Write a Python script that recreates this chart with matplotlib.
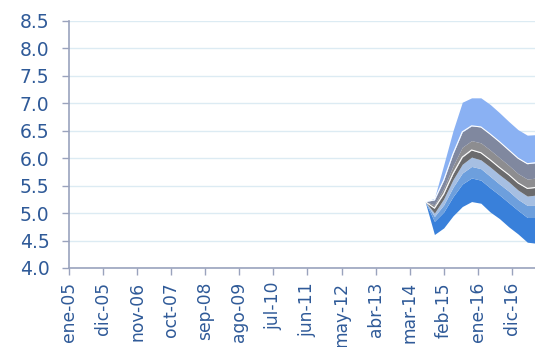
import matplotlib.pyplot as plt

# month names used on the category axis (Spanish)
meses = ['ene', 'feb', 'mar', 'abr', 'may', 'jun', 'jul', 'ago', 'sep', 'oct', 'nov', 'dic']

tick_labels = ['ene-05', 'dic-05', 'nov-06', 'oct-07', 'sep-08', 'ago-09', 'jul-10',
               'jun-11', 'may-12', 'abr-13', 'mar-14', 'feb-15', 'ene-16', 'dic-16']

# fan chart points (quarterly)
fan_dates = ['ago-14', 'nov-14', 'feb-15', 'may-15', 'ago-15', 'nov-15', 'feb-16',
             'may-16', 'ago-16', 'nov-16', 'feb-17', 'may-17', 'ago-17']
top      = [5.21, 5.27, 5.88, 6.50, 7.02, 7.10, 7.10, 6.98, 6.83, 6.67, 6.52, 6.42, 6.43]
upper_2  = [5.21, 5.24, 5.60, 6.08, 6.48, 6.59, 6.57, 6.44, 6.30, 6.15, 6.00, 5.90, 5.92]
upper_1  = [5.21, 5.15, 5.45, 5.86, 6.20, 6.32, 6.28, 6.15, 6.01, 5.87, 5.72, 5.62, 5.64]
central  = [5.21, 5.09, 5.35, 5.72, 6.02, 6.15, 6.10, 5.97, 5.83, 5.70, 5.55, 5.45, 5.47]
lower_1  = [5.21, 5.00, 5.26, 5.61, 5.89, 6.02, 5.97, 5.84, 5.70, 5.57, 5.42, 5.31, 5.33]
lower_2  = [5.21, 4.94, 5.15, 5.47, 5.73, 5.85, 5.81, 5.67, 5.53, 5.40, 5.25, 5.14, 5.14]
lower_3  = [5.21, 4.85, 5.02, 5.30, 5.53, 5.64, 5.60, 5.46, 5.33, 5.19, 5.05, 4.92, 4.92]
bottom   = [5.21, 4.61, 4.73, 4.95, 5.12, 5.21, 5.18, 5.02, 4.90, 4.75, 4.62, 4.47, 4.45]


def month_index(label):
    m, y = label.split('-')
    return (int(y) - 5) * 12 + meses.index(m)


x = [month_index(d) for d in fan_dates]
tick_pos = [month_index(t) for t in tick_labels]

fig = plt.figure(figsize=(5.35, 3.47), dpi=100)
ax = fig.add_axes([0.129, 0.2277, 0.874, 0.7118])

bands = [
    (bottom, lower_3, '#3980DA'),
    (lower_3, lower_2, '#6D9FDD'),
    (lower_2, lower_1, '#A6BFE2'),
    (lower_1, central, '#6B6B6D'),
    (central, upper_1, '#8D8D90'),
    (upper_1, upper_2, '#80889F'),
    (upper_2, top, '#8AB1F3'),
]
for lo, hi, col in bands:
    ax.fill_between(x, lo, hi, color=col, linewidth=0, zorder=2)

# thin white lines at the central path and the upper band edge
ax.plot(x, central, color='white', lw=0.8, zorder=3)
ax.plot(x, upper_2, color='white', lw=0.8, zorder=3)

ax.set_ylim(4.0, 8.5)
ax.set_xlim(0, 151)
ax.set_yticks([4.0 + 0.5 * i for i in range(10)])
ax.set_yticklabels(['%.1f' % (4.0 + 0.5 * i) for i in range(10)])
ax.set_xticks(tick_pos)
ax.set_xticklabels(tick_labels, rotation=90)

ax.grid(axis='y', color='#DCEBF3', linewidth=1, zorder=0)
ax.set_axisbelow(True)

spine_col = '#9AA3BD'
for s in ['top', 'right']:
    ax.spines[s].set_visible(False)
for s in ['left', 'bottom']:
    ax.spines[s].set_color(spine_col)
    ax.spines[s].set_linewidth(1.2)

txt_col = '#2F5A98'
ax.tick_params(axis='y', colors=spine_col, labelcolor=txt_col, length=5, width=1,
               labelsize=13.5, pad=9)
ax.tick_params(axis='x', colors=spine_col, labelcolor=txt_col, length=5, width=1,
               labelsize=12.3, pad=5)

fig.savefig('out.png', dpi=100)
